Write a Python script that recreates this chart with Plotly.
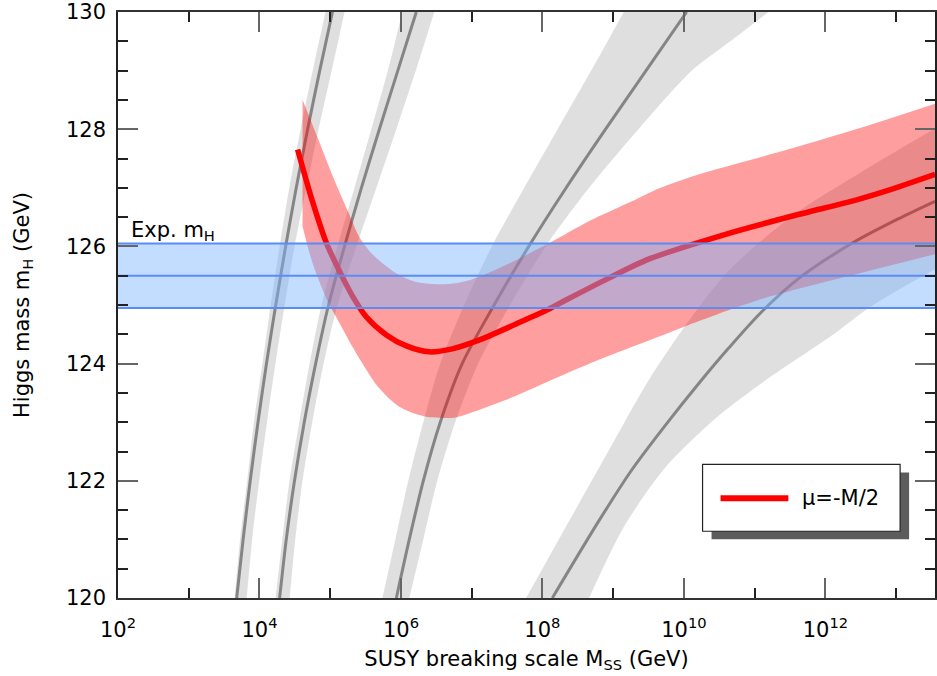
import numpy as np
import plotly.graph_objects as go

# ---------------- data (x given as log10(M_SS / GeV)) ----------------
x_major_exp = [2, 4, 6, 8, 10, 12]
x_minor_exp = [3, 5, 7, 9, 11, 13]
y_major = [120, 122, 124, 126, 128, 130]
y_minor = [120.5, 121, 121.5, 122.5, 123, 123.5, 124.5, 125, 125.5,
           126.5, 127, 127.5, 128.5, 129, 129.5]

# red: mu = -M/2, central value and band
red_c_lx = [4.539, 4.736, 4.948, 5.131, 5.315, 5.512, 5.794, 6.076, 6.401, 6.725,
            7.148, 7.628, 8.093, 8.333, 8.939, 9.503, 10.589, 11.520, 12.466,
            12.931, 13.551]
red_c_y = [127.653, 126.820, 126.054, 125.578, 125.153, 124.796, 124.490, 124.303,
           124.201, 124.252, 124.422, 124.677, 124.932, 125.085, 125.459, 125.782,
           126.207, 126.514, 126.803, 126.973, 127.228]
red_up_lx = [4.609, 4.821, 5.032, 5.244, 5.413, 5.582, 5.738, 5.977, 6.217, 6.443,
             6.683, 6.922, 7.388, 8.093, 8.657, 9.264, 9.645, 10.209, 11.520,
             12.466, 13.551]
red_up_y = [128.503, 127.857, 127.211, 126.616, 126.156, 125.884, 125.714, 125.510,
            125.391, 125.357, 125.357, 125.408, 125.629, 126.054, 126.429, 126.769,
            126.990, 127.228, 127.670, 128.010, 128.435]
red_lo_lx = [4.609, 4.708, 4.821, 4.962, 5.131, 5.315, 5.484, 5.653, 5.836, 5.977,
             6.161, 6.358, 6.542, 6.753, 7.148, 7.628, 8.234, 8.939, 9.743, 10.068,
             11.055, 12.324, 13.551]
red_lo_y = [126.344, 125.884, 125.476, 125.068, 124.694, 124.286, 123.946, 123.639,
            123.401, 123.265, 123.163, 123.095, 123.078, 123.078, 123.231, 123.452,
            123.776, 124.133, 124.507, 124.660, 125.085, 125.493, 125.867]

# gray curves: centre line, left edge and right edge of each band
grid_y = [120, 121, 122, 123, 124, 125, 126, 127, 128, 129, 130]

g1_c_lx = [3.678, 3.769, 3.869, 3.979, 4.099, 4.230, 4.370, 4.520, 4.681, 4.852, 5.032]
g1_l_lx = [3.650, 3.726, 3.827, 3.922, 4.042, 4.159, 4.285, 4.422, 4.582, 4.753, 4.934]
g1_r_lx = [3.819, 3.896, 3.996, 4.106, 4.226, 4.357, 4.496, 4.662, 4.836, 5.021, 5.202]

g2_c_lx = [4.285, 4.379, 4.495, 4.633, 4.794, 4.976, 5.202, 5.441, 5.695, 5.956, 6.217]
g2_l_lx = [4.228, 4.323, 4.425, 4.563, 4.709, 4.877, 5.103, 5.343, 5.582, 5.815, 6.020]
g2_r_lx = [4.426, 4.506, 4.608, 4.746, 4.907, 5.103, 5.371, 5.653, 5.935, 6.210, 6.471]

g3_c_lx = [5.935, 6.118, 6.316, 6.556, 6.866, 7.317, 7.807, 8.336, 8.893, 9.465, 10.039]
g3_l_lx = [5.738, 5.921, 6.104, 6.316, 6.556, 6.894, 7.285, 7.743, 8.216, 8.690, 9.151]
g3_r_lx = [6.118, 6.316, 6.513, 6.767, 7.092, 7.543, 8.047, 8.660, 9.358, 10.114,
           10.656, 11.196]
g3_r_y = [120, 121, 122, 123, 124, 125, 126, 127, 128, 129, 129.5, 130]

g4_c_lx = [8.14, 8.80, 9.26, 9.74, 10.21, 10.63, 11.08, 11.62, 12.40, 13.03, 13.55]
g4_c_y = [120.0, 121.32, 122.18, 122.95, 123.66, 124.26, 124.86, 125.45, 126.07,
          126.47, 126.77]
g4_l_lx = [7.77, 8.33, 8.94, 9.50, 10.07, 10.63, 11.52, 12.47, 13.55]
g4_l_y = [120.0, 121.21, 122.52, 123.71, 124.73, 125.58, 126.51, 127.24, 128.01]
g4_r_lx = [8.66, 9.15, 9.74, 10.49, 11.15, 12.08, 12.65, 13.55]
g4_r_y = [120.0, 121.21, 122.23, 123.11, 123.71, 124.47, 124.98, 125.61]

# experimental Higgs mass
exp_lx = [2.0, 13.55]
exp_mh = 125.5
exp_err = 0.55

legend_label = "μ=-M/2"

# ---------------- figure ----------------
FONT = "DejaVu Sans"
GRAY_BAND = "rgba(128,128,128,0.25)"
GRAY_LINE = "#858585"
RED_BAND = "rgba(255,0,0,0.38)"
BLUE_FILL = "rgba(120,180,255,0.45)"
BLUE_LINE = "#5b8cf5"
SMOOTH = dict(width=0, shape="spline", smoothing=0.8)


def X(lx):
    return list(10.0 ** np.asarray(lx, dtype=float))


def add_band(lx_a, y_a, lx_b, y_b, color):
    """Band between two separately smoothed edges."""
    fig.add_trace(go.Scatter(x=X(lx_a), y=y_a, mode="lines", line=SMOOTH,
                             hoverinfo="skip", showlegend=False))
    fig.add_trace(go.Scatter(x=X(lx_b), y=y_b, mode="lines", line=SMOOTH,
                             fill="tonexty", fillcolor=color,
                             hoverinfo="skip", showlegend=False))


fig = go.Figure()

gray_sets = [
    (g1_c_lx, grid_y, g1_l_lx, grid_y, g1_r_lx, grid_y),
    (g2_c_lx, grid_y, g2_l_lx, grid_y, g2_r_lx, grid_y),
    (g3_c_lx, grid_y, g3_l_lx, grid_y, g3_r_lx, g3_r_y),
    (g4_c_lx, g4_c_y, g4_l_lx, g4_l_y, g4_r_lx, g4_r_y),
]
for c_lx, c_y, l_lx, l_y, r_lx, r_y in gray_sets:
    add_band(l_lx, l_y, r_lx, r_y, GRAY_BAND)
for c_lx, c_y, l_lx, l_y, r_lx, r_y in gray_sets:
    fig.add_trace(go.Scatter(
        x=X(c_lx), y=c_y, mode="lines",
        line=dict(color=GRAY_LINE, width=3, shape="spline", smoothing=0.8),
        hoverinfo="skip", showlegend=False))

# red band + line
add_band(red_lo_lx, red_lo_y, red_up_lx, red_up_y, RED_BAND)
fig.add_trace(go.Scatter(
    x=X(red_c_lx), y=red_c_y, mode="lines", name=legend_label,
    line=dict(color="#ff0000", width=5.5, shape="spline", smoothing=0.8),
    showlegend=False))

# experimental band
fig.add_trace(go.Scatter(
    x=X(exp_lx), y=[exp_mh - exp_err] * 2, mode="lines",
    line=dict(color=BLUE_LINE, width=2), hoverinfo="skip", showlegend=False))
fig.add_trace(go.Scatter(
    x=X(exp_lx), y=[exp_mh + exp_err] * 2, mode="lines", fill="tonexty",
    fillcolor=BLUE_FILL, line=dict(color=BLUE_LINE, width=2),
    hoverinfo="skip", showlegend=False))
fig.add_trace(go.Scatter(
    x=X(exp_lx), y=[exp_mh] * 2, mode="lines",
    line=dict(color=BLUE_LINE, width=2), hoverinfo="skip", showlegend=False))

fig.add_annotation(x=2.16, y=exp_mh + exp_err, xref="x", yref="y",
                   text="Exp. m<sub>H</sub>", showarrow=False, xanchor="left",
                   yanchor="bottom", font=dict(family=FONT, size=21, color="black"),
                   yshift=-3)

# manual legend with drop shadow (paper coordinates)
fig.add_shape(type="rect", xref="paper", yref="paper", x0=0.7265, x1=0.9683,
              y0=0.1003, y1=0.2143, fillcolor="#5c5c5c", line=dict(width=0))
fig.add_shape(type="rect", xref="paper", yref="paper", x0=0.7155, x1=0.9573,
              y0=0.1139, y1=0.2279, fillcolor="white", line=dict(color="#222", width=1.2))
fig.add_shape(type="line", xref="paper", yref="paper", x0=0.7375, x1=0.8205,
              y0=0.1701, y1=0.1701, line=dict(color="#ff0000", width=6))
fig.add_annotation(x=0.8352, y=0.1701, xref="paper", yref="paper", text=legend_label,
                   showarrow=False, xanchor="left", yanchor="middle",
                   font=dict(family=FONT, size=21, color="black"))

fig.update_layout(
    width=937, height=676, autosize=False,
    margin=dict(l=118, r=0, t=10, b=78),
    paper_bgcolor="white", plot_bgcolor="white",
    font=dict(family=FONT, size=21, color="black"),
    showlegend=False,
    xaxis=dict(
        type="log", range=[2, 13.55],
        tickmode="array", tickvals=[10.0 ** k for k in x_major_exp],
        ticktext=[f"10<sup>{k}</sup>" for k in x_major_exp],
        ticks="inside", ticklen=20, tickwidth=1.5, tickcolor="#666",
        minor=dict(tickmode="array", tickvals=[10.0 ** k for k in x_minor_exp],
                   ticks="inside", ticklen=10, tickwidth=1.5, tickcolor="#222"),
        showline=True, linecolor="#333", linewidth=2, mirror="ticks",
        showgrid=False, zeroline=False,
        tickfont=dict(family=FONT, size=21, color="black"),
        ticklabelstandoff=12, ticklabeloverflow="allow",
        title=dict(text="SUSY breaking scale M<sub>SS</sub> (GeV)",
                   font=dict(family=FONT, size=21, color="black"), standoff=10),
    ),
    yaxis=dict(
        range=[120, 130],
        tickmode="array", tickvals=y_major, ticktext=[str(v) for v in y_major],
        ticks="inside", ticklen=20, tickwidth=1.5, tickcolor="#666",
        minor=dict(tickmode="array", tickvals=y_minor, ticks="inside",
                   ticklen=10, tickwidth=1.5, tickcolor="#222"),
        showline=True, linecolor="#222", linewidth=1.5, mirror="ticks",
        showgrid=False, zeroline=False,
        tickfont=dict(family=FONT, size=21, color="black"),
        ticklabelstandoff=6, ticklabeloverflow="allow",
        title=dict(text="Higgs mass m<sub>H</sub> (GeV)",
                   font=dict(family=FONT, size=21, color="black"), standoff=31),
    ),
)

post = ("document.documentElement.style.margin='0';"
        "document.body.style.margin='0';document.body.style.padding='0';"
        "document.body.style.overflow='hidden';"
        "var gd=document.getElementById('{plot_id}');"
        "Plotly.relayout(gd,{width:937,height:676});")

fig.write_html("out.html", post_script=post,
               config={"displayModeBar": False})
